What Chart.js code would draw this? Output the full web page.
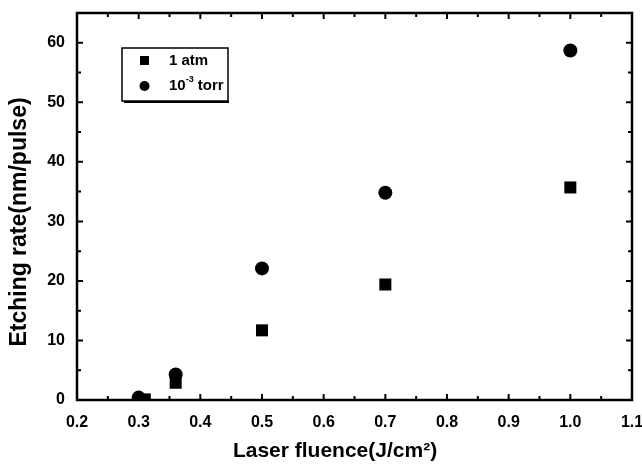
<!DOCTYPE html>
<html>
<head>
<meta charset="utf-8">
<script src="https://cdn.jsdelivr.net/npm/chart.js@4.4.1/dist/chart.umd.min.js"></script>
<style>
	html, body { margin: 0; padding: 0; background: #fff; }
	#wrap { width: 642px; height: 474px; }
</style>
</head>
<body>
<div id="wrap"><canvas id="etchChart"></canvas></div>
<script>
// Etching rate vs laser fluence

const fluenceAtm = [0.31, 0.36, 0.5, 0.7, 1.0];
const rateAtm = [0.1, 2.9, 11.7, 19.4, 35.7];

const fluenceVac = [0.3, 0.36, 0.5, 0.7, 1.0];
const rateVac = [0.4, 4.3, 22.1, 34.8, 58.7];

const xTicks = [0.2, 0.3, 0.4, 0.5, 0.6, 0.7, 0.8, 0.9, 1.0, 1.1];
const yTicks = [0, 10, 20, 30, 40, 50, 60];

const seriesNames = ["1 atm", "10", "-3", " torr"];
const xTitle = "Laser fluence(J/cm²)";
const yTitle = "Etching rate(nm/pulse)";

const FONT = "'Liberation Sans', Arial, sans-serif";

function toPoints(xs, ys) {
	return xs.map((x, i) => ({ x: x, y: ys[i] }));
}

// frame, inward ticks on all sides, axis titles and the boxed legend
const framePlugin = {
	id: "frame",
	afterDraw(chart) {
		const ctx = chart.ctx;
		const a = chart.chartArea;
		const xs = chart.scales.x;
		const ys = chart.scales.y;
		ctx.save();
		ctx.strokeStyle = "#000";
		ctx.lineWidth = 2.5;
		ctx.strokeRect(a.left, a.top, a.right - a.left, a.bottom - a.top);

		ctx.lineWidth = 2;
		for (let v = 0.2; v <= 1.1001; v += 0.05) {
			const px = xs.getPixelForValue(v);
			const major = Math.abs(Math.round(v * 10) - v * 10) < 0.01;
			const len = major ? 6 : 4;
			ctx.beginPath();
			ctx.moveTo(px, a.bottom);
			ctx.lineTo(px, a.bottom - len);
			ctx.moveTo(px, a.top);
			ctx.lineTo(px, a.top + len);
			ctx.stroke();
		}
		for (let v = 0; v <= 65; v += 5) {
			const py = ys.getPixelForValue(v);
			const len = v % 10 === 0 ? 6 : 4;
			ctx.beginPath();
			ctx.moveTo(a.left, py);
			ctx.lineTo(a.left + len, py);
			ctx.moveTo(a.right, py);
			ctx.lineTo(a.right - len, py);
			ctx.stroke();
		}

		// axis titles (sit a bit off-centre in the original)
		ctx.fillStyle = "#000";
		ctx.textAlign = "center";
		ctx.textBaseline = "middle";
		ctx.font = "bold 21px " + FONT;
		ctx.fillText(xTitle, 335, 451);
		ctx.save();
		ctx.translate(20, 222);
		ctx.rotate(-Math.PI / 2);
		ctx.font = "bold 23px " + FONT;
		ctx.fillText(yTitle, 0, 0);
		ctx.restore();

		// legend box
		const bx = 122, by = 48, bw = 106, bh = 53;
		ctx.lineWidth = 1.5;
		ctx.strokeRect(bx, by, bw, bh);
		ctx.lineWidth = 2;
		ctx.beginPath();
		ctx.moveTo(bx + 2, by + bh + 1);
		ctx.lineTo(bx + bw + 1, by + bh + 1);
		ctx.stroke();

		ctx.fillRect(140, 56, 9, 9);
		ctx.beginPath();
		ctx.arc(144.5, 86, 5, 0, Math.PI * 2);
		ctx.fill();

		ctx.textAlign = "left";
		ctx.font = "bold 15px " + FONT;
		ctx.fillText(seriesNames[0], 169, 61);
		ctx.fillText(seriesNames[1], 169, 86);
		let w = ctx.measureText(seriesNames[1]).width;
		ctx.font = "bold 9px " + FONT;
		ctx.fillText(seriesNames[2], 169 + w, 80);
		const w2 = ctx.measureText(seriesNames[2]).width;
		ctx.font = "bold 15px " + FONT;
		ctx.fillText(seriesNames[3], 169 + w + w2, 86);
		ctx.restore();
	},
};

const etchData = {
	datasets: [
		{
			label: "1 atm",
			data: toPoints(fluenceAtm, rateAtm),
			pointStyle: "rect",
			pointRadius: 8.5,
			backgroundColor: "#000",
			borderColor: "#000",
			borderWidth: 0,
			showLine: false,
		},
		{
			label: "10-3 torr",
			data: toPoints(fluenceVac, rateVac),
			pointStyle: "circle",
			pointRadius: 7,
			backgroundColor: "#000",
			borderColor: "#000",
			borderWidth: 0,
			showLine: false,
		},
	],
};

const etchConfig = {
	type: "scatter",
	data: etchData,
	options: {
		responsive: true,
		maintainAspectRatio: false,
		animation: false,
		layout: { padding: { top: 13, right: 10, left: 0, bottom: 0 } },
		plugins: {
			legend: { display: false },
			tooltip: { enabled: false },
		},
		scales: {
			x: {
				type: "linear",
				min: 0.2,
				max: 1.1,
				afterBuildTicks: (s) => { s.ticks = xTicks.map((v) => ({ value: v })); },
				afterFit: (s) => { s.height = 74; s.paddingLeft = 0; s.paddingRight = 0; },
				grid: { display: false, drawTicks: false },
				border: { display: false },
				ticks: {
					color: "#000",
					padding: 13,
					maxRotation: 0,
					font: { family: FONT, size: 16, weight: "bold" },
					callback: (v) => Number(v).toFixed(1),
				},
			},
			y: {
				type: "linear",
				min: 0,
				max: 65,
				afterBuildTicks: (s) => { s.ticks = yTicks.map((v) => ({ value: v })); },
				afterFit: (s) => { s.width = 77; s.paddingTop = 0; s.paddingBottom = 0; },
				grid: { display: false, drawTicks: false },
				border: { display: false },
				ticks: {
					color: "#000",
					padding: 12,
					font: { family: FONT, size: 16, weight: "bold" },
				},
			},
		},
	},
	plugins: [framePlugin],
};

const EtchChart = new Chart(document.getElementById("etchChart"), etchConfig);
</script>
</body>
</html>
